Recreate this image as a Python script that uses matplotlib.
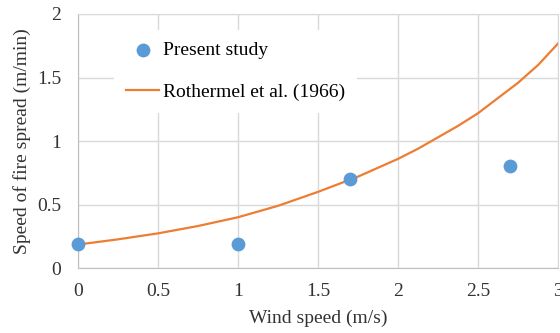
import matplotlib.pyplot as plt

# measured data (present study)
wind = [0, 1, 1.7, 2.7]
spread = [0.19, 0.19, 0.70, 0.80]

# Rothermel et al. (1966) curve
roth_wind = [0, 0.25, 0.5, 0.75, 1, 1.25, 1.5, 1.75, 2, 2.125, 2.25, 2.375, 2.5, 2.625, 2.75, 2.875, 3]
roth_spread = [0.185, 0.226, 0.273, 0.331, 0.40, 0.49, 0.60, 0.72, 0.86, 0.94, 1.03, 1.12, 1.22,
               1.34, 1.46, 1.60, 1.77]

xticks = [0, 0.5, 1, 1.5, 2, 2.5, 3]
xticklabels = ['0', '0.5', '1', '1.5', '2', '2.5', '3']
yticks = [0, 0.5, 1, 1.5, 2]
yticklabels = ['0', '0.5', '1', '1.5', '2']

plt.rcParams['font.family'] = ['Liberation Serif', 'DejaVu Serif']

fig = plt.figure(figsize=(5.6, 3.33), dpi=100)
ax = fig.add_axes([0.139, 0.195, 0.858, 0.763])

ax.plot(roth_wind, roth_spread, color='#ed7d31', lw=1.6, label='Rothermel et al. (1966)',
        zorder=2, solid_joinstyle='round')
ax.scatter(wind, spread, s=80, color='#5b9bd5', label='Present study', zorder=3, clip_on=False)

ax.set_xlim(0, 3)
ax.set_ylim(0, 2)
ax.set_xticks(xticks)
ax.set_xticklabels(xticklabels)
ax.set_yticks(yticks)
ax.set_yticklabels(yticklabels)
ax.tick_params(length=0, labelsize=14, colors='#333333')
ax.tick_params(axis='x', pad=11)
ax.tick_params(axis='y', pad=12)
ax.grid(True, color='#d9d9d9', lw=1)
ax.set_axisbelow(True)
for s in ax.spines.values():
    s.set_color('#d9d9d9')
ax.spines['left'].set_color('#bfbfbf')
ax.spines['bottom'].set_color('#bfbfbf')

ax.set_xlabel('Wind speed (m/s)', fontsize=14, color='#333333', labelpad=7)
ax.set_ylabel('Speed of fire spread (m/min)', fontsize=14, color='#333333')

handles, labels = ax.get_legend_handles_labels()
leg = ax.legend(handles[::-1], labels[::-1], loc='upper left', bbox_to_anchor=(0.056, 0.975),
                fontsize=14, frameon=True, facecolor='white', edgecolor='none',
                framealpha=1, labelspacing=1.25, handlelength=1.7, handletextpad=0.2,
                borderpad=0.6)
leg.set_zorder(1.5)

fig.savefig('out.png', dpi=100)
